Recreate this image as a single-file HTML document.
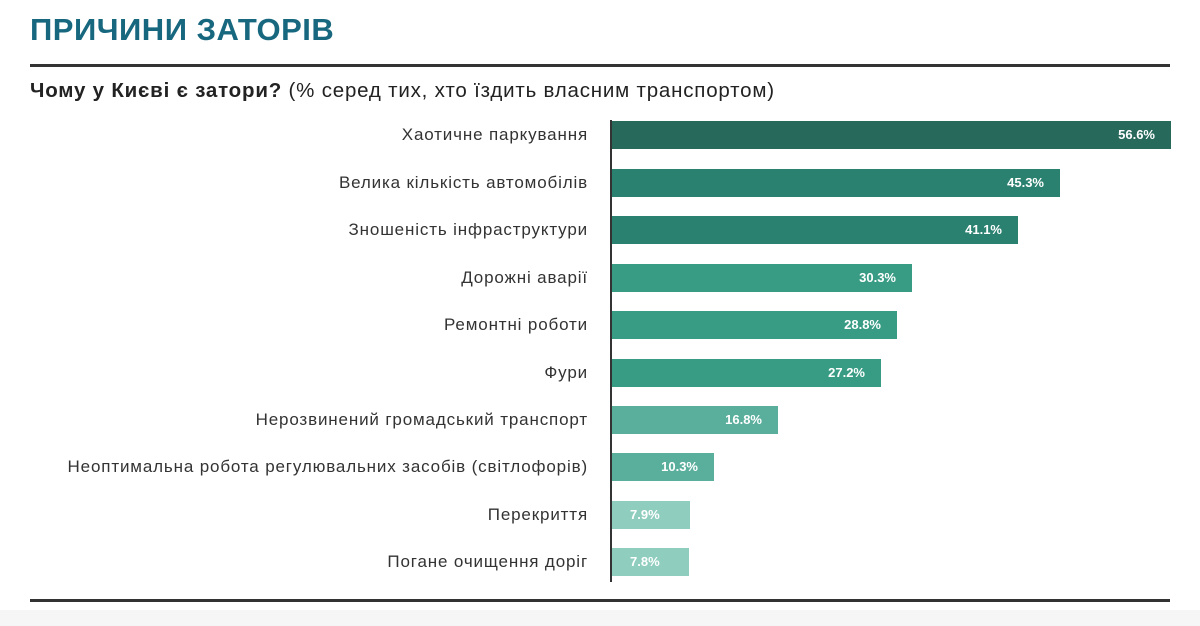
<!DOCTYPE html>
<html><head><meta charset="utf-8"><style>
body{margin:0;width:1200px;height:626px;background:#fff;font-family:"Liberation Sans","DejaVu Sans",sans-serif;position:relative;overflow:hidden}
.t{position:absolute;left:30px;top:12px;font-size:31px;font-weight:bold;color:#17677f;letter-spacing:0.5px}
.hr{position:absolute;left:30px;width:1140px;height:3px;background:#333}
.sub{position:absolute;left:30px;top:79px;font-size:20.5px;color:#222;letter-spacing:0.8px;white-space:nowrap}
.lab{position:absolute;right:612px;font-size:17px;letter-spacing:0.85px;color:#333;white-space:nowrap;transform:translateY(-50%)}
.bar{position:absolute;left:612px;height:28px;transform:translateY(-50%);color:#fff;font-weight:bold;font-size:13px;line-height:28px;text-align:right;box-sizing:border-box;padding-right:16px}
.ax{position:absolute;left:610px;top:120px;width:2px;height:462px;background:#333}
.foot{position:absolute;left:0;top:610px;width:1200px;height:16px;background:#f6f6f6}
</style></head><body>
<div class="t">ПРИЧИНИ ЗАТОРІВ</div>
<div class="hr" style="top:64px"></div>
<div class="sub"><b>Чому у Києві є затори?</b> (% серед тих, хто їздить власним транспортом)</div>
<div class="ax"></div>
<div class="lab" style="top:135px">Хаотичне паркування</div>
<div class="bar" style="top:135px;width:559px;background:#276a5b">56.6%</div>
<div class="lab" style="top:183px">Велика кількість автомобілів</div>
<div class="bar" style="top:183px;width:448px;background:#2b8170">45.3%</div>
<div class="lab" style="top:230px">Зношеність інфраструктури</div>
<div class="bar" style="top:230px;width:406px;background:#2b8170">41.1%</div>
<div class="lab" style="top:278px">Дорожні аварії</div>
<div class="bar" style="top:278px;width:300px;background:#389b84">30.3%</div>
<div class="lab" style="top:325px">Ремонтні роботи</div>
<div class="bar" style="top:325px;width:285px;background:#389b84">28.8%</div>
<div class="lab" style="top:373px">Фури</div>
<div class="bar" style="top:373px;width:269px;background:#389b84">27.2%</div>
<div class="lab" style="top:420px">Нерозвинений громадський транспорт</div>
<div class="bar" style="top:420px;width:166px;background:#5aae9c">16.8%</div>
<div class="lab" style="top:467px">Неоптимальна робота регулювальних засобів (світлофорів)</div>
<div class="bar" style="top:467px;width:102px;background:#5aae9c">10.3%</div>
<div class="lab" style="top:515px">Перекриття</div>
<div class="bar" style="top:515px;width:78px;background:#8fcdbe;text-align:left;padding-left:18px">7.9%</div>
<div class="lab" style="top:562px">Погане очищення доріг</div>
<div class="bar" style="top:562px;width:77px;background:#8fcdbe;text-align:left;padding-left:18px">7.8%</div>
<div class="hr" style="top:599px"></div>
<div class="foot"></div>
</body></html>
